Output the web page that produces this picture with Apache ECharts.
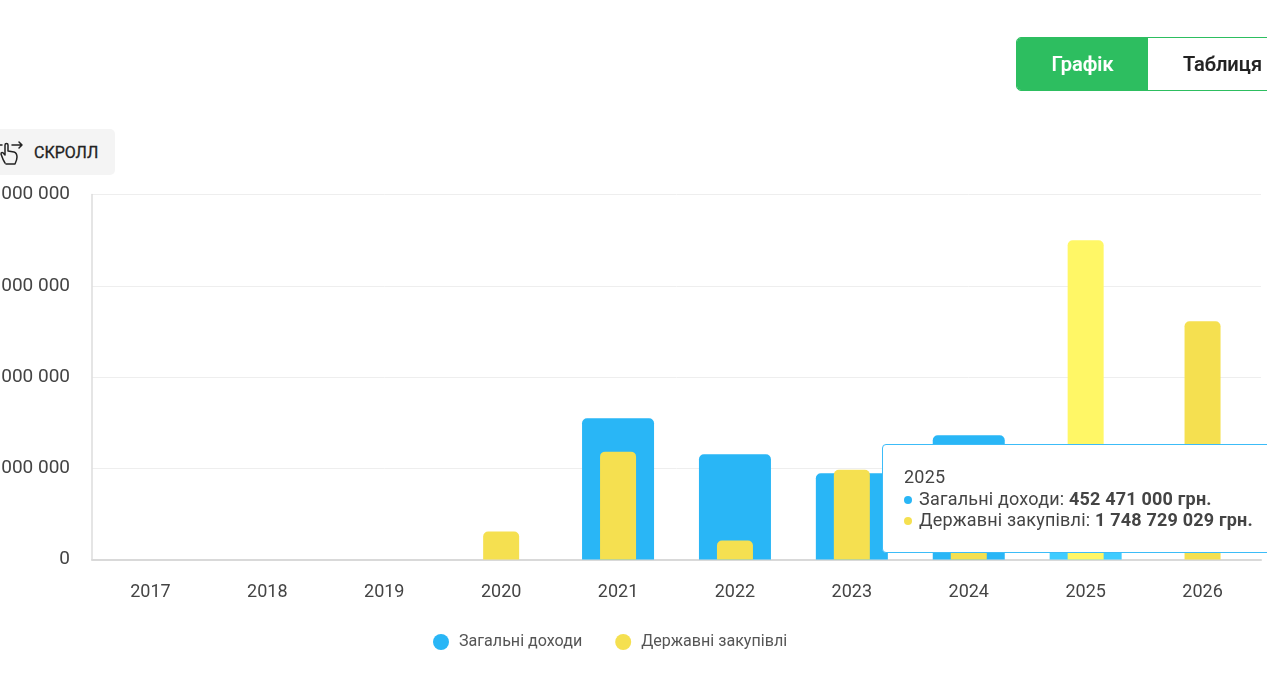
<!DOCTYPE html>
<html><head><meta charset="utf-8">
<style>
html,body{margin:0;padding:0;width:1267px;height:675px;overflow:hidden;background:#fff;font-family:Roboto,sans-serif}
#chart{position:absolute;left:0;top:0;width:1267px;height:675px}
.btns{position:absolute;left:1016px;top:37px;width:300px;height:54px;display:flex;box-sizing:border-box;border:1px solid #2dbe60;border-radius:5px;overflow:hidden;z-index:5;background:#fff}
.btns div{width:132px;height:100%;display:flex;align-items:center;justify-content:center;font-size:20px;font-weight:500;color:#222;-webkit-text-stroke:0.2px currentColor}
.btns .on{background:#2dbe60;color:#fff}
.btns .off{width:168px;justify-content:flex-start;padding-left:35px;box-sizing:border-box}
.scroll{position:absolute;left:-30px;top:129px;width:145px;height:46px;background:#f4f4f4;border-radius:5px;z-index:5}
.scroll span{position:absolute;left:64px;top:14px;font-size:16px;font-weight:400;-webkit-text-stroke:0.3px #222;color:#222;line-height:19px}
.scroll svg{position:absolute;left:29px;top:10px}
</style></head><body>
<div id="chart"></div>
<div class="btns"><div class="on">Графік</div><div class="off">Таблиця</div></div>
<div class="scroll">
<svg width="26" height="26" viewBox="0 0 26 26" fill="none" stroke="#222" stroke-width="1.5" stroke-linecap="round" stroke-linejoin="round">
<path d="M6 24 C4 21 3 18 2 15 C2 13 4 13 5 15 L6 16 L6 6 C6 4 9 4 9 6 L9 12 L15 13 C18 14 18 16 18 18 C18 21 17 23 16 25 L7 25"/>
<path d="M13 6 L23 6 M20 3 L23 6 L20 9"/>
<path d="M3 6 L0 6"/>
</svg>
<span>СКРОЛЛ</span></div>
<script src="https://cdn.jsdelivr.net/npm/echarts@6/dist/echarts.min.js"></script>
<script>
const years = ['2017','2018','2019','2020','2021','2022','2023','2024','2025','2026'];
const totalIncome = [0,0,0,0,774000000,577000000,473000000,681000000,452471000,0];
const procurement = [0,0,0,153000000,591000000,104000000,492000000,300000000,1748729029,1305000000];
const incomeName = 'Загальні доходи';
const procurementName = 'Державні закупівлі';
const hoverIndex = 8;

const fmt = v => String(Math.round(v)).replace(/\B(?=(\d{3})+(?!\d))/g,' ');
const dot = c => `<span style="display:inline-block;width:8px;height:8px;border-radius:50%;background:${c};margin-right:7px;vertical-align:1.5px"></span>`;
const chart = echarts.init(document.getElementById('chart'), null, {renderer:'canvas'});
const radius = [5,5,0,0];
const catAxis = (show) => ({
  type:'category', data:years, gridIndex:0, show,
  axisTick:{show:false},
  axisLine:{lineStyle:{color:'#d9d9d9',width:2}},
  axisLabel:{color:'#444',fontSize:18,fontFamily:'Roboto',margin:24},
  axisPointer:{show:false}
});
chart.setOption({
  animation:false,
  textStyle:{fontFamily:'Roboto'},
  grid:{left:92,right:6,top:194.5,bottom:115.5,containLabel:false,outerBoundsMode:'none'},
  legend:{
    show:true,left:428,top:629,icon:'circle',itemWidth:16,itemHeight:16,itemGap:33,
    data:[incomeName,procurementName],
    textStyle:{color:'#555',fontSize:16.1,fontFamily:'Roboto',padding:[0,0,0,5]}
  },
  tooltip:{
    trigger:'item',confine:false,alwaysShowContent:true,transitionDuration:0,showDelay:0,
    position:[882,444],
    backgroundColor:'#fff',borderColor:'#3cbcf8',borderWidth:1.5,borderRadius:4,padding:[21,20,20,21],
    textStyle:{color:'#444',fontSize:18,fontFamily:'Roboto'},
    extraCssText:'box-shadow:none;line-height:21px;letter-spacing:0.2px;width:420px;box-sizing:border-box;height:109px;',
    formatter:()=>{
      const i=hoverIndex;
      return `<div style="line-height:22px">${years[i]}</div>`+
        `<div>${dot('#29b6f6')}${incomeName}: <b style="font-weight:700">${fmt(totalIncome[i])} грн.</b></div>`+
        `<div>${dot('#f5e050')}${procurementName}: <b style="font-weight:700">${fmt(procurement[i])} грн.</b></div>`;
    }
  },
  xAxis:[catAxis(true),catAxis(false)],
  yAxis:{
    type:'value',min:0,max:2000000000,interval:500000000,
    axisLine:{show:true,lineStyle:{color:'#dcdcdc',width:1.5}},
    axisTick:{show:false},
    splitLine:{lineStyle:{color:'#eeeeee',width:1}},
    axisLabel:{color:'#444',fontSize:19,fontFamily:'Roboto',margin:22,padding:[2,0,0,0],formatter:fmt}
  },
  series:[
    {name:incomeName,type:'bar',xAxisIndex:0,data:totalIncome,barWidth:72,
     itemStyle:{color:'#29b6f6',borderRadius:radius},
     emphasis:{itemStyle:{color:'#40ccff'}}},
    {name:procurementName,type:'bar',xAxisIndex:1,data:procurement,barWidth:36,
     itemStyle:{color:'#f5e050',borderRadius:radius},
     emphasis:{itemStyle:{color:'#fff766'}}}
  ]
});
chart.dispatchAction({type:'highlight',seriesIndex:0,dataIndex:hoverIndex});
chart.dispatchAction({type:'highlight',seriesIndex:1,dataIndex:hoverIndex});
chart.dispatchAction({type:'showTip',seriesIndex:1,dataIndex:hoverIndex});
</script>
</body></html>
